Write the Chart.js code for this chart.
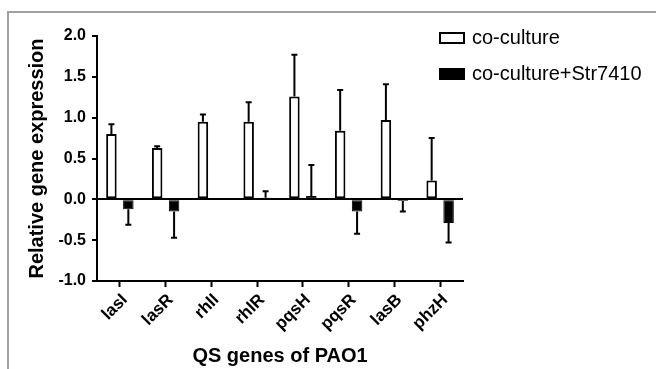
<!DOCTYPE html>
<html>
<head>
<meta charset="utf-8">
<script src="https://cdn.jsdelivr.net/npm/chart.js@4"></script>
<style>
  body { margin: 0; background: #fff; }
  canvas { display: block; }
</style>
</head>
<body>
<canvas id="qsChart" width="656" height="369"></canvas>
<script>
// Chart data
const genes = ['lasI', 'lasR', 'rhlI', 'rhlR', 'pqsH', 'pqsR', 'lasB', 'phzH'];
const coCulture = [0.80, 0.63, 0.95, 0.95, 1.26, 0.84, 0.97, 0.23];
const coCultureErr = [0.12, 0.02, 0.09, 0.24, 0.51, 0.50, 0.44, 0.52];
const coCultureStr = [-0.12, -0.15, 0.01, 0.02, 0.04, -0.15, -0.02, -0.29];
const coCultureStrErr = [0.19, 0.32, 0, 0.08, 0.38, 0.27, 0.13, 0.24];
const yTickValues = [-1.0, -0.5, 0.0, 0.5, 1.0, 1.5, 2.0];
const seriesNames = ['co-culture', 'co-culture+Str7410'];

const FONT = "'Liberation Sans', Arial, sans-serif";

// White background and the grey frame around the figure
const framePlugin = {
    id: 'frame',
    beforeDraw(chart) {
        const ctx = chart.ctx;
        ctx.save();
        ctx.fillStyle = '#fff';
        ctx.fillRect(0, 0, chart.width, chart.height);
        ctx.strokeStyle = '#a0a0a0';
        ctx.lineWidth = 2;
        ctx.beginPath();
        ctx.moveTo(8, chart.height);
        ctx.lineTo(8, 12);
        ctx.lineTo(chart.width, 12);
        ctx.stroke();
        ctx.restore();
    }
};

// One-sided error bars (away from zero)
const errorBarPlugin = {
    id: 'errorBars',
    afterDatasetsDraw(chart) {
        const ctx = chart.ctx;
        const yScale = chart.scales.y;
        const errs = [coCultureErr, coCultureStrErr];
        ctx.save();
        ctx.strokeStyle = '#000';
        ctx.lineWidth = 2;
        chart.data.datasets.forEach((ds, di) => {
            const meta = chart.getDatasetMeta(di);
            meta.data.forEach((bar, i) => {
                const err = errs[di][i];
                if (!err) return;
                const v = ds.data[i];
                const sign = v < 0 ? -1 : 1;
                const yEnd = yScale.getPixelForValue(v + sign * err);
                ctx.beginPath();
                ctx.moveTo(bar.x, bar.y);
                ctx.lineTo(bar.x, yEnd);
                ctx.moveTo(bar.x - 3, yEnd);
                ctx.lineTo(bar.x + 3, yEnd);
                ctx.stroke();
            });
        });
        ctx.restore();
    }
};

// Legend in the top right corner
const legendPlugin = {
    id: 'cornerLegend',
    afterDraw(chart) {
        const ctx = chart.ctx;
        ctx.save();
        ctx.font = '20px ' + FONT;
        ctx.textBaseline = 'middle';
        seriesNames.forEach((name, i) => {
            const y = 32 + i * 36;
            if (i === 0) {
                ctx.lineWidth = 2;
                ctx.strokeStyle = '#000';
                ctx.fillStyle = '#fff';
                ctx.fillRect(440, y + 1, 24, 10);
                ctx.strokeRect(440, y + 1, 24, 10);
            } else {
                ctx.fillStyle = '#000';
                ctx.fillRect(439, y, 26, 12);
            }
            ctx.fillStyle = '#000';
            ctx.fillText(name, 472, y + 6);
        });
        ctx.restore();
    }
};

const ctx = document.getElementById('qsChart').getContext('2d');
new Chart(ctx, {
    type: 'bar',
    data: {
        labels: genes,
        datasets: [{
            label: seriesNames[0],
            data: coCulture,
            backgroundColor: '#fff',
            borderColor: '#000',
            borderWidth: 2,
            borderSkipped: false
        }, {
            label: seriesNames[1],
            data: coCultureStr,
            backgroundColor: '#000',
            borderColor: '#000',
            borderWidth: 1,
            borderSkipped: false
        }]
    },
    options: {
        responsive: false,
        animation: false,
        categoryPercentage: 0.74,
        barPercentage: 0.62,
        layout: {
            padding: { left: 0, top: 36, right: 193, bottom: 0 }
        },
        plugins: {
            legend: { display: false },
            tooltip: { enabled: false }
        },
        scales: {
            x: {
                afterFit: (scale) => { scale.height = 88; },
                grid: {
                    offset: false,
                    color: 'transparent',
                    tickColor: '#000',
                    tickLength: 6,
                    tickWidth: 2
                },
                border: { display: true, color: '#000', width: 2 },
                ticks: {
                    color: '#000',
                    minRotation: 45,
                    maxRotation: 45,
                    padding: 3,
                    labelOffset: 5,
                    font: { family: FONT, size: 17, weight: 'bold' }
                },
                title: {
                    display: true,
                    text: 'QS genes of PAO1',
                    color: '#000',
                    padding: { top: 0, bottom: 1 },
                    font: { family: FONT, size: 20, weight: 'bold' }
                }
            },
            y: {
                min: -1,
                max: 2,
                afterFit: (scale) => { scale.width = 97; },
                afterBuildTicks: (scale) => {
                    scale.ticks = yTickValues.map(v => ({ value: v }));
                },
                grid: {
                    color: (c) => c.tick && c.tick.value === 0 ? '#000' : 'transparent',
                    lineWidth: 2,
                    tickColor: '#000',
                    tickLength: 5,
                    tickWidth: 2
                },
                border: { display: true, color: '#000', width: 2 },
                ticks: {
                    color: '#000',
                    padding: 6,
                    font: { family: FONT, size: 16, weight: 'bold' },
                    callback: (v) => Number(v).toFixed(1)
                },
                title: {
                    display: true,
                    text: 'Relative gene expression',
                    color: '#000',
                    padding: { top: 25, bottom: 0 },
                    font: { family: FONT, size: 20, weight: 'bold' }
                }
            }
        }
    },
    plugins: [framePlugin, errorBarPlugin, legendPlugin]
});
</script>
</body>
</html>
